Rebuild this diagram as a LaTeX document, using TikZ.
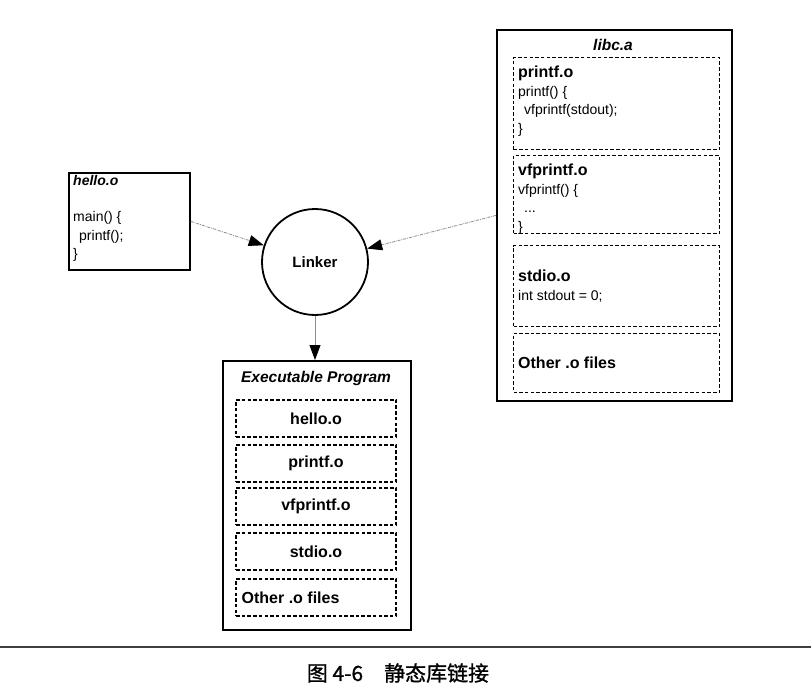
\documentclass[tikz,border=0pt]{standalone}
\usepackage{fontspec}
\setmainfont{Liberation Sans}
\newfontfamily\cjk[FakeBold=1]{Noto Sans CJK SC}
\usetikzlibrary{arrows.meta, shapes}

\tikzset{
  outer box/.style={draw, line width=1.8pt, inner sep=0pt},
  obj box/.style={draw, line width=1.1pt, dash pattern=on 3.5pt off 2.2pt, inner sep=0pt, minimum width=206pt},
  exe part/.style={obj box, minimum width=160pt, minimum height=37pt, font=\fontsize{16}{18}\selectfont\bfseries},
  code/.style={align=left, inner sep=0pt, font=\fontsize{14}{18.5}\selectfont},
  head/.style={inner sep=0pt, font=\fontsize{15.5}{18}\selectfont\bfseries\itshape},
  link/.style={draw=black!45, line width=0.8pt, densely dash dot, -{Triangle[length=15pt, width=11pt, color=black]}},
  down link/.style={draw=black!45, line width=0.8pt, -{Triangle[length=15pt, width=11pt, color=black]}}
}

\begin{document}
\begin{tikzpicture}[x=1pt, y=-1pt]
\useasboundingbox (0, 0) rectangle (811, 694);

\node (hello) [outer box, minimum width=121pt, minimum height=97pt, anchor=north west] at (68, 172) {};
\node (hellotext) [code, anchor=north west] at (73, 175) {\textbf{\textit{hello.o}}\\[18pt] main() \{\\ \hspace*{6pt}printf();\\ \}};

\node (linker) [circle, draw, line width=1.8pt, minimum size=106pt, inner sep=0pt, font=\fontsize{15}{18}\selectfont\bfseries] at (315, 262) {Linker};

\node (libc) [outer box, minimum width=235pt, minimum height=371pt, anchor=north west] at (496, 29) {};
\node (libctitle) [head] at (613, 45) {libc.a};
\node (printfo) [obj box, minimum height=92pt, anchor=north west] at (513, 57) {};
\node (printftext) [code, anchor=north west] at (518, 66) {{\fontsize{16}{18}\selectfont\bfseries printf.o}\\ printf() \{\\ \hspace*{6pt}vfprintf(stdout);\\ \}};
\node (vfprintfo) [obj box, minimum height=78pt, anchor=north west] at (513, 155) {};
\node (vfprintftext) [code, anchor=north west] at (518, 164) {{\fontsize{16}{18}\selectfont\bfseries vfprintf.o}\\ vfprintf() \{\\ \hspace*{6pt}...\\ \}};
\node (stdioo) [obj box, minimum height=81pt, anchor=north west] at (513, 245) {};
\node (stdiotext) [code, anchor=west] at ([xshift=5pt]stdioo.west) {{\fontsize{16}{18}\selectfont\bfseries stdio.o}\\ int stdout = 0;};
\node (othero) [obj box, minimum height=59pt, anchor=north west] at (513, 333) {};
\node (othertext) [code, anchor=west, font=\fontsize{16}{18}\selectfont\bfseries] at ([xshift=5pt]othero.west) {Other .o files};

\node (exe) [outer box, minimum width=188pt, minimum height=269pt, anchor=north west] at (222, 360) {};
\node (exetitle) [head] at (316, 378) {Executable Program};
\node (exehello) [exe part] at (316, 418.5) {hello.o};
\node (exeprintf) [exe part] at (316, 463.5) {printf.o};
\node (exevfprintf) [exe part] at (316, 506.5) {vfprintf.o};
\node (exestdio) [exe part] at (316, 551.5) {stdio.o};
\node (exeother) [exe part] at (316, 597.5) {};
\node (exeothertext) [code, anchor=west, font=\fontsize{16}{18}\selectfont\bfseries] at ([xshift=6pt]exeother.west) {Other .o files};

\draw [link] (hello.east) -- (linker);
\draw [link] (libc.west) -- (linker);
\draw [down link] (linker.south) -- (linker.south |- exe.north);

\draw [line width=1.3pt, black!75] (0, 647) -- (811, 647);
\node (caption) [inner sep=0pt, font=\cjk\fontsize{21}{24}\selectfont] at (398, 673) {图 4-6\hspace{1em}静态库链接};
\end{tikzpicture}
\end{document}
